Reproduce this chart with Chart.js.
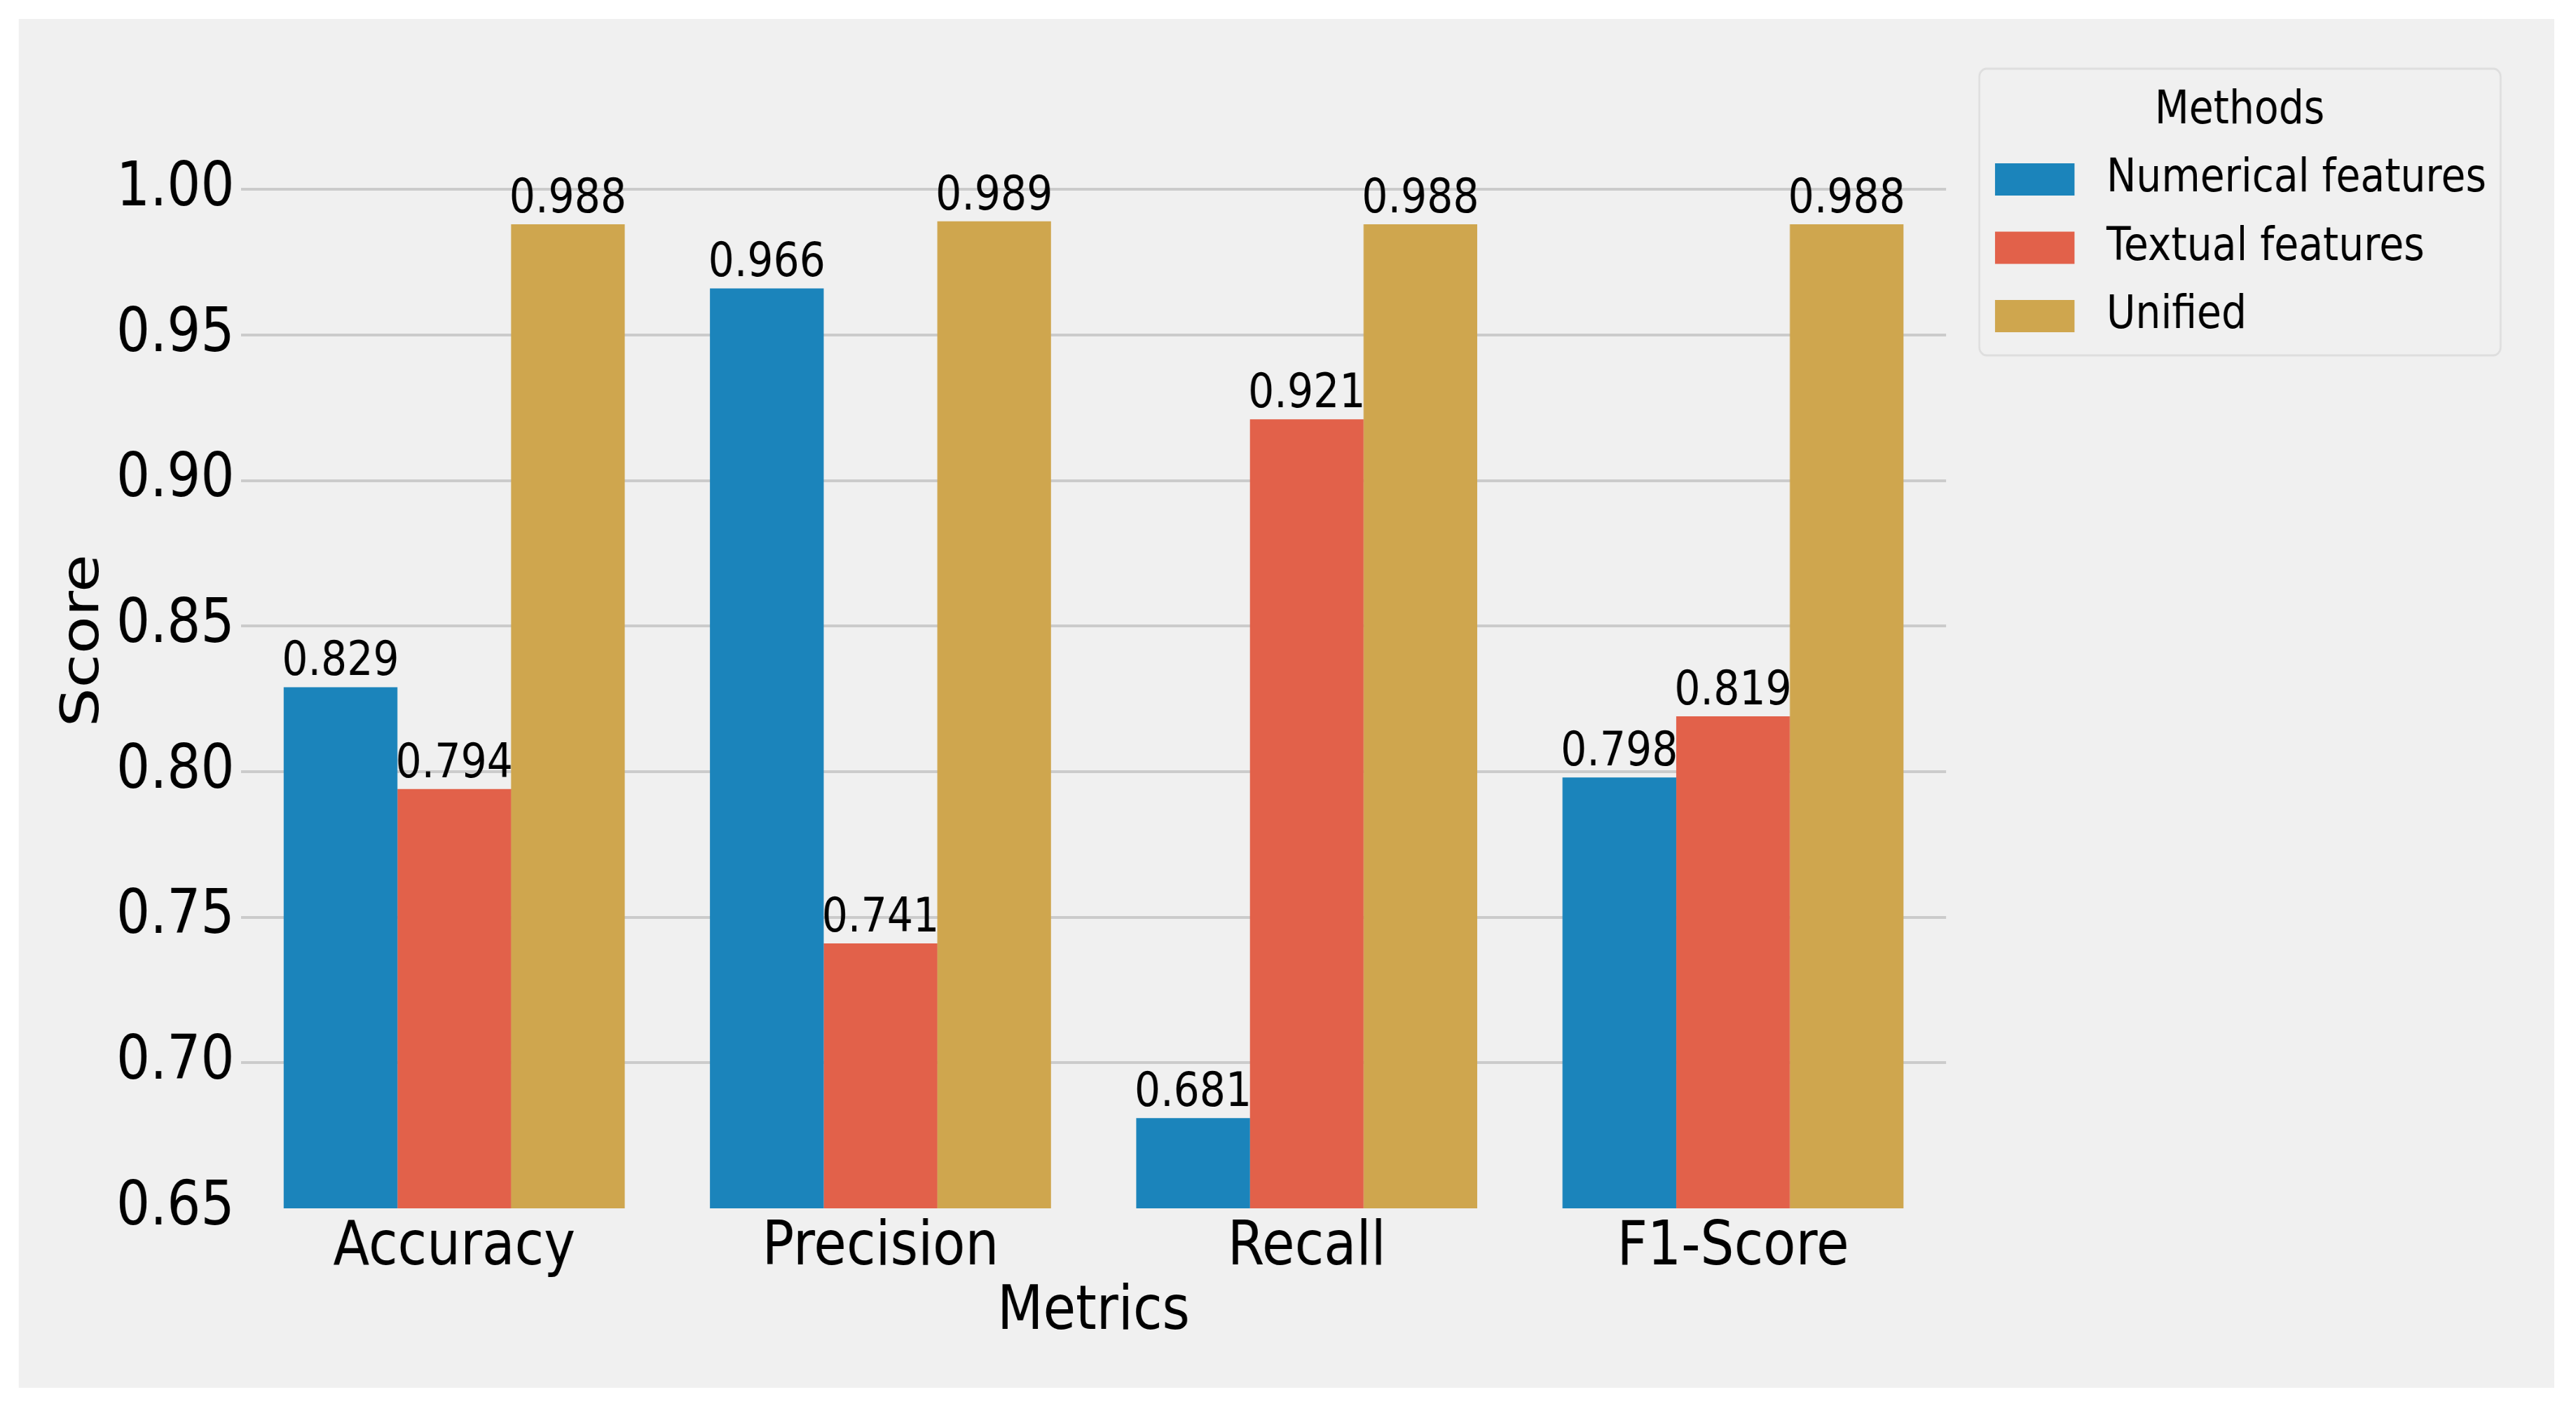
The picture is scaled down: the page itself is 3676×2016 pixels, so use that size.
<!DOCTYPE html>
<html><head><meta charset="utf-8">
<script src="https://cdn.jsdelivr.net/npm/chart.js@4.4.0/dist/chart.umd.min.js"></script>
<style>
html,body{margin:0;padding:0;background:#fff;overflow:hidden;width:3676px;height:2016px;}
#wrap{position:absolute;left:0;top:0;width:4274px;height:2016px;transform:scaleX(0.86007);transform-origin:0 0;}
canvas{display:block;}
</style></head><body>
<div id="wrap"><canvas id="c" width="4274" height="2016"></canvas></div>
<script>
// ---- data ----
const categories = ['Accuracy', 'Precision', 'Recall', 'F1-Score'];
const seriesNames = ['Numerical features', 'Textual features', 'Unified'];
const numericalValues = [0.829, 0.966, 0.681, 0.798];
const textualValues   = [0.794, 0.741, 0.921, 0.819];
const unifiedValues   = [0.988, 0.989, 0.988, 0.988];
const yTickValues = [0.65, 0.70, 0.75, 0.80, 0.85, 0.90, 0.95, 1.00];
const xTitle = 'Metrics';
const yTitle = 'Score';
const legendTitle = 'Methods';

// ---- style ----
const FAMILY = '"DejaVu Sans", "Noto Sans", sans-serif';
const COLORS = ['#1b84bb', '#e2614a', '#cfa64e'];
const BG = '#f0f0f0';

function legendFrame(chart) {
  const lg = chart.legend;
  return { x: lg.left + 5.5, y: 98, w: 865, h: 409, r: 12 };
}

const bgPlugin = {
  id: 'bg',
  beforeDraw(chart) {
    const ctx = chart.ctx;
    ctx.save();
    ctx.fillStyle = '#ffffff';
    ctx.fillRect(0, 0, chart.width, chart.height);
    ctx.fillStyle = BG;
    ctx.fillRect(31, 27, 4238 - 31, 1980 - 27);
    ctx.restore();
  },
  afterDraw(chart) {
    if (!chart.legend) return;
    const f = legendFrame(chart);
    const ctx = chart.ctx;
    ctx.save();
    ctx.beginPath();
    ctx.roundRect(f.x, f.y, f.w, f.h, f.r);
    ctx.lineWidth = 3;
    ctx.strokeStyle = '#dedede';
    ctx.stroke();
    ctx.restore();
  }
};

const legendPlacePlugin = {
  id: 'legendPlace',
  afterLayout(chart) {
    const lg = chart.legend;
    if (!lg) return;
    lg.left = chart.chartArea.right + 49.5;
    lg.width = 875;
    lg.right = lg.left + lg.width;
  }
};

const valueLabelPlugin = {
  id: 'valueLabels',
  afterDatasetsDraw(chart) {
    const ctx = chart.ctx;
    ctx.save();
    ctx.font = '68px ' + FAMILY;
    ctx.fillStyle = '#000';
    ctx.textAlign = 'center';
    ctx.textBaseline = 'alphabetic';
    chart.data.datasets.forEach((ds, i) => {
      const meta = chart.getDatasetMeta(i);
      meta.data.forEach((bar, j) => {
        ctx.fillText(ds.data[j].toFixed(3), bar.x, bar.y - 17);
      });
    });
    ctx.restore();
  }
};

const seriesValues = [numericalValues, textualValues, unifiedValues];

new Chart(document.getElementById('c'), {
  type: 'bar',
  data: {
    labels: categories,
    datasets: seriesNames.map((name, i) => ({
      label: name,
      data: seriesValues[i],
      backgroundColor: COLORS[i],
      borderWidth: 0,
      categoryPercentage: 0.8,
      barPercentage: 1.0
    }))
  },
  options: {
    responsive: false,
    devicePixelRatio: 1,
    animation: false,
    layout: { padding: { left: 0, top: 104, right: 345, bottom: 0 } },
    scales: {
      x: {
        grid: { display: false },
        border: { display: false },
        ticks: { font: { family: FAMILY, size: 88, lineHeight: 1 }, color: '#000', padding: 5, maxRotation: 0, minRotation: 0 },
        title: { display: true, text: xTitle, font: { family: FAMILY, size: 88, lineHeight: 1.2 }, color: '#000', padding: { top: 0, bottom: 89.6 } },
        afterFit(s) { s.height = 292; }
      },
      y: {
        min: 0.65,
        max: 1.04,
        grid: {
          color: (c) => (c.tick && Math.abs(c.tick.value - 0.65) < 1e-9) ? 'rgba(0,0,0,0)' : '#cbcbcb',
          lineWidth: 4,
          drawTicks: false
        },
        border: { display: false },
        ticks: { font: { family: FAMILY, size: 88, lineHeight: 1 }, color: '#000', padding: 11, callback: (v) => Number(v).toFixed(2) },
        afterBuildTicks(axis) { axis.ticks = yTickValues.map(v => ({ value: v })); },
        title: { display: true, text: yTitle, font: { family: FAMILY, size: 88, lineHeight: 1.2 }, color: '#000', padding: { top: 87, bottom: 0 } },
        afterFit(s) { s.width = 400; }
      }
    },
    plugins: {
      tooltip: { enabled: false },
      legend: {
        position: 'right',
        align: 'start',
        maxWidth: 700,
        title: { display: true, text: legendTitle, color: '#000', font: { family: FAMILY, size: 66, lineHeight: 1 }, padding: { top: 22, bottom: 9.5 } },
        labels: {
          font: { family: FAMILY, size: 66 },
          color: '#000',
          boxWidth: 172,
          boxHeight: 86,
          padding: 11.5,
          generateLabels(chart) {
            const items = Chart.defaults.plugins.legend.labels.generateLabels(chart);
            return items.map(it => Object.assign(it, { lineWidth: 40, strokeStyle: BG }));
          }
        }
      }
    }
  },
  plugins: [bgPlugin, legendPlacePlugin, valueLabelPlugin]
});
</script>
</body></html>
